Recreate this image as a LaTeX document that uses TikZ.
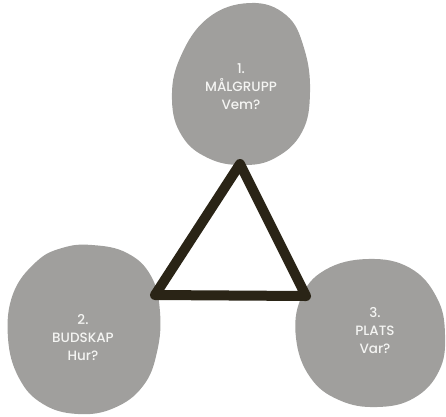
\documentclass[tikz,border=0pt]{standalone}
\usepackage{fontspec}
\setmainfont{Poppins}
\newfontfamily\labelfont{Poppins}[UprightFont=* Medium]
\definecolor{blobgray}{HTML}{A09F9D}
\definecolor{inkdark}{HTML}{2A2416}
\definecolor{labelwhite}{HTML}{F4F4F2}
\begin{document}
\begin{tikzpicture}[x=1pt,y=-1pt,
  blob/.style={fill=blobgray,draw=none},
  blobtext/.style={text=labelwhite,font=\labelfont\fontsize{13.5}{18}\selectfont,align=center,inner sep=0pt},
  frame/.style={draw=inkdark,line width=10pt,line join=round,line cap=round}]
\useasboundingbox (0,0) rectangle (446,416);
% three egg-shaped blobs
\fill[blob] plot[smooth cycle,tension=0.7] coordinates {
  (250,3) (286,15) (304,48) (310,92) (302,132) (275,158) (242,165)
  (208,158) (182,136) (172,100) (180,58) (208,18)};
\fill[blob] plot[smooth cycle,tension=0.7] coordinates {
  (92,245) (127,253) (151,276) (160,312) (157,352) (143,386) (114,408)
  (78,414) (43,404) (19,378) (8,338) (13,294) (36,262) (62,248)};
\fill[blob] plot[smooth cycle,tension=0.7] coordinates {
  (368,259) (410,268) (437,298) (445,335) (439,371) (414,398) (377,407)
  (339,400) (310,377) (296,338) (301,298) (325,270)};
% labels
\node[blobtext] (n1) at (241,87) {1.\\MÅLGRUPP\\Vem?};
\node[blobtext] (n2) at (83,338) {2.\\BUDSKAP\\Hur?};
\node[blobtext] (n3) at (375,331) {3.\\PLATS\\Var?};
% central triangle
\coordinate (ta) at (240,164);
\coordinate (tl) at (155,295);
\coordinate (tr) at (306,296);
\draw[frame] (ta) -- (tr) -- (tl) -- cycle;
\end{tikzpicture}
\end{document}
